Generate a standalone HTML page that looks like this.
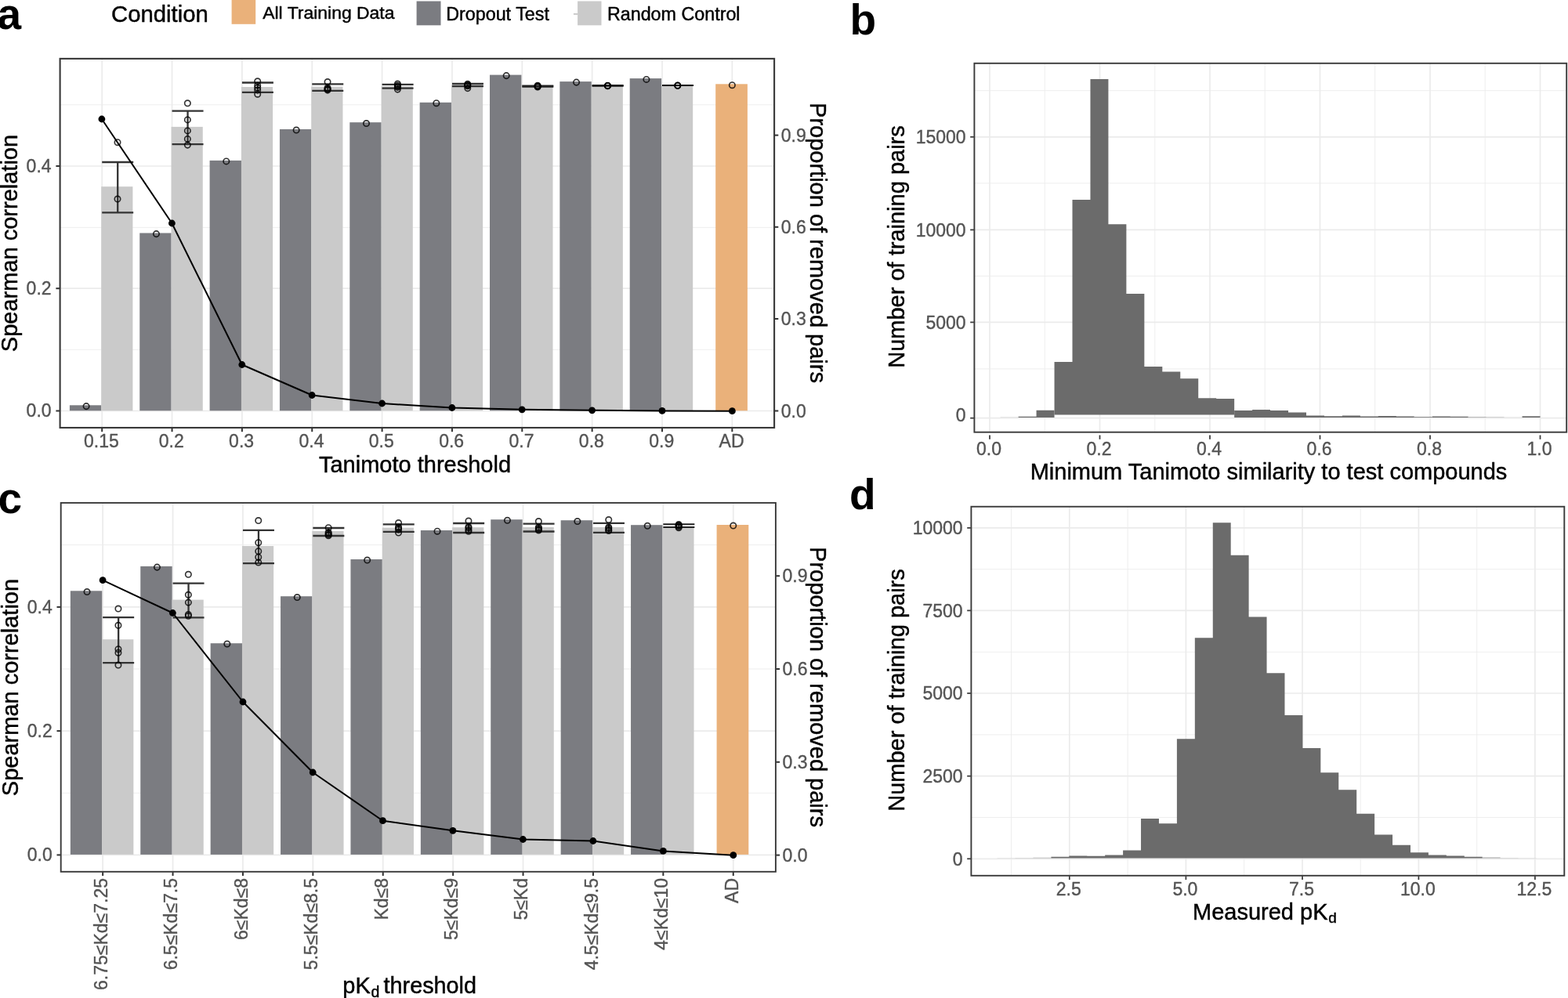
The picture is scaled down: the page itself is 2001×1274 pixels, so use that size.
<!DOCTYPE html>
<html lang="en">
<head>
<meta charset="utf-8">
<title>Figure: dropout experiments</title>
<style>
html,body{margin:0;padding:0;background:#fff;}
body{width:2001px;height:1274px;overflow:hidden;}
svg{display:block;font-family:'Liberation Sans', sans-serif;}
</style>
</head>
<body>
<svg width="2001" height="1274" viewBox="0 0 2001 1274">
<rect x="0" y="0" width="2001" height="1274" fill="#ffffff"/>
<line x1="76.6" y1="446.3" x2="988.1" y2="446.3" stroke="#EBEBEB" stroke-width="0.85" />
<line x1="76.6" y1="290.4" x2="988.1" y2="290.4" stroke="#EBEBEB" stroke-width="0.85" />
<line x1="76.6" y1="133.8" x2="988.1" y2="133.8" stroke="#EBEBEB" stroke-width="0.85" />
<line x1="76.6" y1="524.5" x2="988.1" y2="524.5" stroke="#EBEBEB" stroke-width="1.7" />
<line x1="76.6" y1="368.2" x2="988.1" y2="368.2" stroke="#EBEBEB" stroke-width="1.7" />
<line x1="76.6" y1="212" x2="988.1" y2="212" stroke="#EBEBEB" stroke-width="1.7" />
<line x1="130.2" y1="74.9" x2="130.2" y2="546" stroke="#EBEBEB" stroke-width="1.7" />
<line x1="219.55" y1="74.9" x2="219.55" y2="546" stroke="#EBEBEB" stroke-width="1.7" />
<line x1="308.9" y1="74.9" x2="308.9" y2="546" stroke="#EBEBEB" stroke-width="1.7" />
<line x1="398.25" y1="74.9" x2="398.25" y2="546" stroke="#EBEBEB" stroke-width="1.7" />
<line x1="487.6" y1="74.9" x2="487.6" y2="546" stroke="#EBEBEB" stroke-width="1.7" />
<line x1="576.95" y1="74.9" x2="576.95" y2="546" stroke="#EBEBEB" stroke-width="1.7" />
<line x1="666.3" y1="74.9" x2="666.3" y2="546" stroke="#EBEBEB" stroke-width="1.7" />
<line x1="755.65" y1="74.9" x2="755.65" y2="546" stroke="#EBEBEB" stroke-width="1.7" />
<line x1="845" y1="74.9" x2="845" y2="546" stroke="#EBEBEB" stroke-width="1.7" />
<line x1="934.35" y1="74.9" x2="934.35" y2="546" stroke="#EBEBEB" stroke-width="1.7" />
<rect x="88.9" y="517.3" width="40.4" height="7" fill="#7B7C81" />
<rect x="129.2" y="238.2" width="40.2" height="286.1" fill="#CACACA" />
<rect x="178.25" y="297.5" width="40.4" height="226.8" fill="#7B7C81" />
<rect x="218.55" y="161.9" width="40.2" height="362.4" fill="#CACACA" />
<rect x="267.6" y="204.9" width="40.4" height="319.4" fill="#7B7C81" />
<rect x="307.9" y="111" width="40.2" height="413.3" fill="#CACACA" />
<rect x="356.95" y="165" width="40.4" height="359.3" fill="#7B7C81" />
<rect x="397.25" y="110.7" width="40.2" height="413.6" fill="#CACACA" />
<rect x="446.3" y="156.2" width="40.4" height="368.1" fill="#7B7C81" />
<rect x="486.6" y="110.1" width="40.2" height="414.2" fill="#CACACA" />
<rect x="535.65" y="130.8" width="40.4" height="393.5" fill="#7B7C81" />
<rect x="575.95" y="108.6" width="40.2" height="415.7" fill="#CACACA" />
<rect x="625" y="95.6" width="40.4" height="428.7" fill="#7B7C81" />
<rect x="665.3" y="110" width="40.2" height="414.3" fill="#CACACA" />
<rect x="714.35" y="104.1" width="40.4" height="420.2" fill="#7B7C81" />
<rect x="754.65" y="109.5" width="40.2" height="414.8" fill="#CACACA" />
<rect x="803.7" y="100.1" width="40.4" height="424.2" fill="#7B7C81" />
<rect x="844" y="109.4" width="40.2" height="414.9" fill="#CACACA" />
<rect x="913.2" y="107.3" width="40.7" height="417" fill="#EAB17A" />
<line x1="130.2" y1="207" x2="170.2" y2="207" stroke="#333333" stroke-width="2.3" />
<line x1="130.2" y1="271.3" x2="170.2" y2="271.3" stroke="#333333" stroke-width="2.3" />
<line x1="150.2" y1="207" x2="150.2" y2="271.3" stroke="#333333" stroke-width="2.3" />
<line x1="219.55" y1="141.6" x2="259.55" y2="141.6" stroke="#333333" stroke-width="2.3" />
<line x1="219.55" y1="184.1" x2="259.55" y2="184.1" stroke="#333333" stroke-width="2.3" />
<line x1="239.55" y1="141.6" x2="239.55" y2="184.1" stroke="#333333" stroke-width="2.3" />
<line x1="308.9" y1="105.5" x2="348.9" y2="105.5" stroke="#333333" stroke-width="2.3" />
<line x1="308.9" y1="117.9" x2="348.9" y2="117.9" stroke="#333333" stroke-width="2.3" />
<line x1="328.9" y1="105.5" x2="328.9" y2="117.9" stroke="#333333" stroke-width="2.3" />
<line x1="398.25" y1="107.4" x2="438.25" y2="107.4" stroke="#333333" stroke-width="2.3" />
<line x1="398.25" y1="115.8" x2="438.25" y2="115.8" stroke="#333333" stroke-width="2.3" />
<line x1="418.25" y1="107.4" x2="418.25" y2="115.8" stroke="#333333" stroke-width="2.3" />
<line x1="487.6" y1="107.9" x2="527.6" y2="107.9" stroke="#333333" stroke-width="2.3" />
<line x1="487.6" y1="112.6" x2="527.6" y2="112.6" stroke="#333333" stroke-width="2.3" />
<line x1="507.6" y1="107.9" x2="507.6" y2="112.6" stroke="#333333" stroke-width="2.3" />
<line x1="576.95" y1="107" x2="616.95" y2="107" stroke="#333333" stroke-width="2.3" />
<line x1="576.95" y1="110.2" x2="616.95" y2="110.2" stroke="#333333" stroke-width="2.3" />
<line x1="596.95" y1="107" x2="596.95" y2="110.2" stroke="#333333" stroke-width="2.3" />
<line x1="666.3" y1="109.5" x2="706.3" y2="109.5" stroke="#222" stroke-width="2.2" />
<line x1="666.3" y1="110.6" x2="706.3" y2="110.6" stroke="#222" stroke-width="2.2" />
<line x1="686.3" y1="109.5" x2="686.3" y2="110.6" stroke="#222" stroke-width="2.2" />
<line x1="755.65" y1="109" x2="795.65" y2="109" stroke="#111" stroke-width="2" />
<line x1="755.65" y1="109.8" x2="795.65" y2="109.8" stroke="#111" stroke-width="2" />
<line x1="775.65" y1="109" x2="775.65" y2="109.8" stroke="#111" stroke-width="2" />
<line x1="845" y1="109" x2="885" y2="109" stroke="#000" stroke-width="2.1" />
<line x1="845" y1="109" x2="885" y2="109" stroke="#000" stroke-width="2.1" />
<line x1="865" y1="109" x2="865" y2="109" stroke="#000" stroke-width="2.1" />
<circle cx="110.1" cy="518.6" r="3.7" fill="none" stroke="#000" stroke-width="1.65" stroke-opacity="0.8"/>
<circle cx="150" cy="181.7" r="3.7" fill="none" stroke="#000" stroke-width="1.65" stroke-opacity="0.8"/>
<circle cx="150" cy="254" r="3.7" fill="none" stroke="#000" stroke-width="1.65" stroke-opacity="0.8"/>
<circle cx="199.45" cy="298.6" r="3.7" fill="none" stroke="#000" stroke-width="1.65" stroke-opacity="0.8"/>
<circle cx="239.35" cy="131.8" r="3.7" fill="none" stroke="#000" stroke-width="1.65" stroke-opacity="0.8"/>
<circle cx="239.35" cy="152.9" r="3.7" fill="none" stroke="#000" stroke-width="1.65" stroke-opacity="0.8"/>
<circle cx="239.35" cy="166.9" r="3.7" fill="none" stroke="#000" stroke-width="1.65" stroke-opacity="0.8"/>
<circle cx="239.35" cy="177.4" r="3.7" fill="none" stroke="#000" stroke-width="1.65" stroke-opacity="0.8"/>
<circle cx="239.35" cy="185.1" r="3.7" fill="none" stroke="#000" stroke-width="1.65" stroke-opacity="0.8"/>
<circle cx="288.8" cy="205.9" r="3.7" fill="none" stroke="#000" stroke-width="1.65" stroke-opacity="0.8"/>
<circle cx="328.7" cy="103.8" r="3.7" fill="none" stroke="#000" stroke-width="1.65" stroke-opacity="0.8"/>
<circle cx="328.7" cy="108.9" r="3.7" fill="none" stroke="#000" stroke-width="1.65" stroke-opacity="0.8"/>
<circle cx="328.7" cy="112" r="3.7" fill="none" stroke="#000" stroke-width="1.65" stroke-opacity="0.8"/>
<circle cx="328.7" cy="115.1" r="3.7" fill="none" stroke="#000" stroke-width="1.65" stroke-opacity="0.8"/>
<circle cx="328.7" cy="120.2" r="3.7" fill="none" stroke="#000" stroke-width="1.65" stroke-opacity="0.8"/>
<circle cx="378.15" cy="166" r="3.7" fill="none" stroke="#000" stroke-width="1.65" stroke-opacity="0.8"/>
<circle cx="418.05" cy="104.5" r="3.7" fill="none" stroke="#000" stroke-width="1.65" stroke-opacity="0.8"/>
<circle cx="418.05" cy="112" r="3.7" fill="none" stroke="#000" stroke-width="1.65" stroke-opacity="0.8"/>
<circle cx="418.05" cy="113.6" r="3.7" fill="none" stroke="#000" stroke-width="1.65" stroke-opacity="0.8"/>
<circle cx="418.05" cy="115.1" r="3.7" fill="none" stroke="#000" stroke-width="1.65" stroke-opacity="0.8"/>
<circle cx="418.05" cy="114" r="3.7" fill="none" stroke="#000" stroke-width="1.65" stroke-opacity="0.8"/>
<circle cx="467.5" cy="157.5" r="3.7" fill="none" stroke="#000" stroke-width="1.65" stroke-opacity="0.8"/>
<circle cx="507.4" cy="107" r="3.7" fill="none" stroke="#000" stroke-width="1.65" stroke-opacity="0.8"/>
<circle cx="507.4" cy="108.9" r="3.7" fill="none" stroke="#000" stroke-width="1.65" stroke-opacity="0.8"/>
<circle cx="507.4" cy="110.2" r="3.7" fill="none" stroke="#000" stroke-width="1.65" stroke-opacity="0.8"/>
<circle cx="507.4" cy="111.4" r="3.7" fill="none" stroke="#000" stroke-width="1.65" stroke-opacity="0.8"/>
<circle cx="507.4" cy="114.1" r="3.7" fill="none" stroke="#000" stroke-width="1.65" stroke-opacity="0.8"/>
<circle cx="556.85" cy="131.7" r="3.7" fill="none" stroke="#000" stroke-width="1.65" stroke-opacity="0.8"/>
<circle cx="596.75" cy="107.2" r="3.7" fill="none" stroke="#000" stroke-width="1.65" stroke-opacity="0.8"/>
<circle cx="596.75" cy="108.3" r="3.7" fill="none" stroke="#000" stroke-width="1.65" stroke-opacity="0.8"/>
<circle cx="596.75" cy="109" r="3.7" fill="none" stroke="#000" stroke-width="1.65" stroke-opacity="0.8"/>
<circle cx="596.75" cy="109.8" r="3.7" fill="none" stroke="#000" stroke-width="1.65" stroke-opacity="0.8"/>
<circle cx="596.75" cy="112.6" r="3.7" fill="none" stroke="#000" stroke-width="1.65" stroke-opacity="0.8"/>
<circle cx="646.2" cy="96.6" r="3.7" fill="none" stroke="#000" stroke-width="1.65" stroke-opacity="0.8"/>
<circle cx="686.1" cy="109.3" r="3.7" fill="none" stroke="#000" stroke-width="1.65" stroke-opacity="0.8"/>
<circle cx="686.1" cy="109.8" r="3.7" fill="none" stroke="#000" stroke-width="1.65" stroke-opacity="0.8"/>
<circle cx="686.1" cy="110.2" r="3.7" fill="none" stroke="#000" stroke-width="1.65" stroke-opacity="0.8"/>
<circle cx="686.1" cy="110.6" r="3.7" fill="none" stroke="#000" stroke-width="1.65" stroke-opacity="0.8"/>
<circle cx="686.1" cy="111" r="3.7" fill="none" stroke="#000" stroke-width="1.65" stroke-opacity="0.8"/>
<circle cx="735.55" cy="105.1" r="3.7" fill="none" stroke="#000" stroke-width="1.65" stroke-opacity="0.8"/>
<circle cx="775.45" cy="109.2" r="3.7" fill="none" stroke="#000" stroke-width="1.65" stroke-opacity="0.8"/>
<circle cx="775.45" cy="109.4" r="3.7" fill="none" stroke="#000" stroke-width="1.65" stroke-opacity="0.8"/>
<circle cx="775.45" cy="109.6" r="3.7" fill="none" stroke="#000" stroke-width="1.65" stroke-opacity="0.8"/>
<circle cx="775.45" cy="109.7" r="3.7" fill="none" stroke="#000" stroke-width="1.65" stroke-opacity="0.8"/>
<circle cx="824.9" cy="101.4" r="3.7" fill="none" stroke="#000" stroke-width="1.65" stroke-opacity="0.8"/>
<circle cx="864.8" cy="109.1" r="3.7" fill="none" stroke="#000" stroke-width="1.65" stroke-opacity="0.8"/>
<circle cx="864.8" cy="109.2" r="3.7" fill="none" stroke="#000" stroke-width="1.65" stroke-opacity="0.8"/>
<circle cx="864.8" cy="109.3" r="3.7" fill="none" stroke="#000" stroke-width="1.65" stroke-opacity="0.8"/>
<circle cx="934.35" cy="108.7" r="3.7" fill="none" stroke="#000" stroke-width="1.65" stroke-opacity="0.8"/>
<polyline fill="none" stroke="#000" stroke-width="2" stroke-linejoin="round" points="129.9,152 219.4,285 308.8,465.5 398.2,504.5 487.6,515 576.9,520.5 666.2,522.8 755.6,523.8 845,524.4 934.4,524.7"/>
<circle cx="129.9" cy="152" r="4.4" fill="#000"/>
<circle cx="219.4" cy="285" r="4.4" fill="#000"/>
<circle cx="308.8" cy="465.5" r="4.4" fill="#000"/>
<circle cx="398.2" cy="504.5" r="4.4" fill="#000"/>
<circle cx="487.6" cy="515" r="4.4" fill="#000"/>
<circle cx="576.9" cy="520.5" r="4.4" fill="#000"/>
<circle cx="666.2" cy="522.8" r="4.4" fill="#000"/>
<circle cx="755.6" cy="523.8" r="4.4" fill="#000"/>
<circle cx="845" cy="524.4" r="4.4" fill="#000"/>
<circle cx="934.4" cy="524.7" r="4.4" fill="#000"/>
<rect x="76.6" y="74.9" width="911.5" height="471.1" fill="none" stroke="#383838" stroke-width="2.1"/>
<line x1="71.4" y1="524.5" x2="76.1" y2="524.5" stroke="#333333" stroke-width="2" />
<text transform="translate(65.6 532.4)" font-size="23" fill="#545454" stroke="#545454" stroke-width="0.38" stroke-linejoin="round" text-anchor="end" font-weight="normal" >0.0</text>
<line x1="71.4" y1="368.2" x2="76.1" y2="368.2" stroke="#333333" stroke-width="2" />
<text transform="translate(65.6 376.1)" font-size="23" fill="#545454" stroke="#545454" stroke-width="0.38" stroke-linejoin="round" text-anchor="end" font-weight="normal" >0.2</text>
<line x1="71.4" y1="212" x2="76.1" y2="212" stroke="#333333" stroke-width="2" />
<text transform="translate(65.6 219.9)" font-size="23" fill="#545454" stroke="#545454" stroke-width="0.38" stroke-linejoin="round" text-anchor="end" font-weight="normal" >0.4</text>
<line x1="988.6" y1="524.5" x2="993.3" y2="524.5" stroke="#333333" stroke-width="2" />
<text transform="translate(996.7 532.6)" font-size="23" fill="#545454" stroke="#545454" stroke-width="0.38" stroke-linejoin="round" text-anchor="start" font-weight="normal" >0.0</text>
<line x1="988.6" y1="407" x2="993.3" y2="407" stroke="#333333" stroke-width="2" />
<text transform="translate(996.7 415.1)" font-size="23" fill="#545454" stroke="#545454" stroke-width="0.38" stroke-linejoin="round" text-anchor="start" font-weight="normal" >0.3</text>
<line x1="988.6" y1="289.8" x2="993.3" y2="289.8" stroke="#333333" stroke-width="2" />
<text transform="translate(996.7 297.9)" font-size="23" fill="#545454" stroke="#545454" stroke-width="0.38" stroke-linejoin="round" text-anchor="start" font-weight="normal" >0.6</text>
<line x1="988.6" y1="172.6" x2="993.3" y2="172.6" stroke="#333333" stroke-width="2" />
<text transform="translate(996.7 180.7)" font-size="23" fill="#545454" stroke="#545454" stroke-width="0.38" stroke-linejoin="round" text-anchor="start" font-weight="normal" >0.9</text>
<line x1="130.2" y1="546.5" x2="130.2" y2="551.2" stroke="#333333" stroke-width="2" />
<line x1="219.55" y1="546.5" x2="219.55" y2="551.2" stroke="#333333" stroke-width="2" />
<line x1="308.9" y1="546.5" x2="308.9" y2="551.2" stroke="#333333" stroke-width="2" />
<line x1="398.25" y1="546.5" x2="398.25" y2="551.2" stroke="#333333" stroke-width="2" />
<line x1="487.6" y1="546.5" x2="487.6" y2="551.2" stroke="#333333" stroke-width="2" />
<line x1="576.95" y1="546.5" x2="576.95" y2="551.2" stroke="#333333" stroke-width="2" />
<line x1="666.3" y1="546.5" x2="666.3" y2="551.2" stroke="#333333" stroke-width="2" />
<line x1="755.65" y1="546.5" x2="755.65" y2="551.2" stroke="#333333" stroke-width="2" />
<line x1="845" y1="546.5" x2="845" y2="551.2" stroke="#333333" stroke-width="2" />
<line x1="934.35" y1="546.5" x2="934.35" y2="551.2" stroke="#333333" stroke-width="2" />
<text transform="translate(129.4 571.3)" font-size="23" fill="#545454" stroke="#545454" stroke-width="0.38" stroke-linejoin="round" text-anchor="middle" font-weight="normal" >0.15</text>
<text transform="translate(218.75 571.3)" font-size="23" fill="#545454" stroke="#545454" stroke-width="0.38" stroke-linejoin="round" text-anchor="middle" font-weight="normal" >0.2</text>
<text transform="translate(308.1 571.3)" font-size="23" fill="#545454" stroke="#545454" stroke-width="0.38" stroke-linejoin="round" text-anchor="middle" font-weight="normal" >0.3</text>
<text transform="translate(397.45 571.3)" font-size="23" fill="#545454" stroke="#545454" stroke-width="0.38" stroke-linejoin="round" text-anchor="middle" font-weight="normal" >0.4</text>
<text transform="translate(486.8 571.3)" font-size="23" fill="#545454" stroke="#545454" stroke-width="0.38" stroke-linejoin="round" text-anchor="middle" font-weight="normal" >0.5</text>
<text transform="translate(576.15 571.3)" font-size="23" fill="#545454" stroke="#545454" stroke-width="0.38" stroke-linejoin="round" text-anchor="middle" font-weight="normal" >0.6</text>
<text transform="translate(665.5 571.3)" font-size="23" fill="#545454" stroke="#545454" stroke-width="0.38" stroke-linejoin="round" text-anchor="middle" font-weight="normal" >0.7</text>
<text transform="translate(754.85 571.3)" font-size="23" fill="#545454" stroke="#545454" stroke-width="0.38" stroke-linejoin="round" text-anchor="middle" font-weight="normal" >0.8</text>
<text transform="translate(844.2 571.3)" font-size="23" fill="#545454" stroke="#545454" stroke-width="0.38" stroke-linejoin="round" text-anchor="middle" font-weight="normal" >0.9</text>
<text transform="translate(933.55 571.3)" font-size="23" fill="#545454" stroke="#545454" stroke-width="0.38" stroke-linejoin="round" text-anchor="middle" font-weight="normal" >AD</text>
<text transform="translate(529.5 602.6)" font-size="29" fill="#000" stroke="#000" stroke-width="0.45" stroke-linejoin="round" text-anchor="middle" font-weight="normal" >Tanimoto threshold</text>
<text transform="translate(21.7 310.5) rotate(-90)" font-size="29" fill="#000" stroke="#000" stroke-width="0.45" stroke-linejoin="round" text-anchor="middle" font-weight="normal" >Spearman correlation</text>
<text transform="translate(1034.2 310) rotate(90)" font-size="29" fill="#000" stroke="#000" stroke-width="0.45" stroke-linejoin="round" text-anchor="middle" font-weight="normal" >Proportion of removed pairs</text>
<line x1="77.7" y1="1012.3" x2="989.9" y2="1012.3" stroke="#EBEBEB" stroke-width="0.85" />
<line x1="77.7" y1="854" x2="989.9" y2="854" stroke="#EBEBEB" stroke-width="0.85" />
<line x1="77.7" y1="695.6" x2="989.9" y2="695.6" stroke="#EBEBEB" stroke-width="0.85" />
<line x1="77.7" y1="1091.4" x2="989.9" y2="1091.4" stroke="#EBEBEB" stroke-width="1.7" />
<line x1="77.7" y1="933.1" x2="989.9" y2="933.1" stroke="#EBEBEB" stroke-width="1.7" />
<line x1="77.7" y1="774.9" x2="989.9" y2="774.9" stroke="#EBEBEB" stroke-width="1.7" />
<line x1="131.15" y1="641.9" x2="131.15" y2="1112.8" stroke="#EBEBEB" stroke-width="1.7" />
<line x1="220.55" y1="641.9" x2="220.55" y2="1112.8" stroke="#EBEBEB" stroke-width="1.7" />
<line x1="309.95" y1="641.9" x2="309.95" y2="1112.8" stroke="#EBEBEB" stroke-width="1.7" />
<line x1="399.35" y1="641.9" x2="399.35" y2="1112.8" stroke="#EBEBEB" stroke-width="1.7" />
<line x1="488.75" y1="641.9" x2="488.75" y2="1112.8" stroke="#EBEBEB" stroke-width="1.7" />
<line x1="578.15" y1="641.9" x2="578.15" y2="1112.8" stroke="#EBEBEB" stroke-width="1.7" />
<line x1="667.55" y1="641.9" x2="667.55" y2="1112.8" stroke="#EBEBEB" stroke-width="1.7" />
<line x1="756.95" y1="641.9" x2="756.95" y2="1112.8" stroke="#EBEBEB" stroke-width="1.7" />
<line x1="846.35" y1="641.9" x2="846.35" y2="1112.8" stroke="#EBEBEB" stroke-width="1.7" />
<line x1="935.75" y1="641.9" x2="935.75" y2="1112.8" stroke="#EBEBEB" stroke-width="1.7" />
<rect x="89.85" y="754.3" width="40.4" height="336.6" fill="#7B7C81" />
<rect x="130.15" y="816.2" width="40.2" height="274.7" fill="#CACACA" />
<rect x="179.25" y="722.9" width="40.4" height="368" fill="#7B7C81" />
<rect x="219.55" y="765.6" width="40.2" height="325.3" fill="#CACACA" />
<rect x="268.65" y="821.2" width="40.4" height="269.7" fill="#7B7C81" />
<rect x="308.95" y="697" width="40.2" height="393.9" fill="#CACACA" />
<rect x="358.05" y="761.2" width="40.4" height="329.7" fill="#7B7C81" />
<rect x="398.35" y="678" width="40.2" height="412.9" fill="#CACACA" />
<rect x="447.45" y="714" width="40.4" height="376.9" fill="#7B7C81" />
<rect x="487.75" y="673.7" width="40.2" height="417.2" fill="#CACACA" />
<rect x="536.85" y="677" width="40.4" height="413.9" fill="#7B7C81" />
<rect x="577.15" y="673.2" width="40.2" height="417.7" fill="#CACACA" />
<rect x="626.25" y="663.2" width="40.4" height="427.7" fill="#7B7C81" />
<rect x="666.55" y="673" width="40.2" height="417.9" fill="#CACACA" />
<rect x="715.65" y="664.2" width="40.4" height="426.7" fill="#7B7C81" />
<rect x="755.95" y="673" width="40.2" height="417.9" fill="#CACACA" />
<rect x="805.05" y="670.2" width="40.4" height="420.7" fill="#7B7C81" />
<rect x="845.35" y="672.5" width="40.2" height="418.4" fill="#CACACA" />
<rect x="914.6" y="670" width="40.7" height="420.9" fill="#EAB17A" />
<line x1="131.15" y1="788.1" x2="171.15" y2="788.1" stroke="#333333" stroke-width="2.3" />
<line x1="131.15" y1="846.2" x2="171.15" y2="846.2" stroke="#333333" stroke-width="2.3" />
<line x1="151.15" y1="788.1" x2="151.15" y2="846.2" stroke="#333333" stroke-width="2.3" />
<line x1="220.55" y1="744.6" x2="260.55" y2="744.6" stroke="#333333" stroke-width="2.3" />
<line x1="220.55" y1="788.4" x2="260.55" y2="788.4" stroke="#333333" stroke-width="2.3" />
<line x1="240.55" y1="744.6" x2="240.55" y2="788.4" stroke="#333333" stroke-width="2.3" />
<line x1="309.95" y1="676.8" x2="349.95" y2="676.8" stroke="#333333" stroke-width="2.3" />
<line x1="309.95" y1="719.2" x2="349.95" y2="719.2" stroke="#333333" stroke-width="2.3" />
<line x1="329.95" y1="676.8" x2="329.95" y2="719.2" stroke="#333333" stroke-width="2.3" />
<line x1="399.35" y1="674" x2="439.35" y2="674" stroke="#333333" stroke-width="2.3" />
<line x1="399.35" y1="684" x2="439.35" y2="684" stroke="#333333" stroke-width="2.3" />
<line x1="419.35" y1="674" x2="419.35" y2="684" stroke="#333333" stroke-width="2.3" />
<line x1="488.75" y1="669.4" x2="528.75" y2="669.4" stroke="#333333" stroke-width="2.3" />
<line x1="488.75" y1="678.8" x2="528.75" y2="678.8" stroke="#333333" stroke-width="2.3" />
<line x1="508.75" y1="669.4" x2="508.75" y2="678.8" stroke="#333333" stroke-width="2.3" />
<line x1="578.15" y1="668" x2="618.15" y2="668" stroke="#333333" stroke-width="2.3" />
<line x1="578.15" y1="680" x2="618.15" y2="680" stroke="#333333" stroke-width="2.3" />
<line x1="598.15" y1="668" x2="598.15" y2="680" stroke="#333333" stroke-width="2.3" />
<line x1="667.55" y1="668.7" x2="707.55" y2="668.7" stroke="#333333" stroke-width="2.3" />
<line x1="667.55" y1="678.5" x2="707.55" y2="678.5" stroke="#333333" stroke-width="2.3" />
<line x1="687.55" y1="668.7" x2="687.55" y2="678.5" stroke="#333333" stroke-width="2.3" />
<line x1="756.95" y1="667.8" x2="796.95" y2="667.8" stroke="#333333" stroke-width="2.3" />
<line x1="756.95" y1="679.8" x2="796.95" y2="679.8" stroke="#333333" stroke-width="2.3" />
<line x1="776.95" y1="667.8" x2="776.95" y2="679.8" stroke="#333333" stroke-width="2.3" />
<line x1="846.35" y1="669.3" x2="886.35" y2="669.3" stroke="#222" stroke-width="2" />
<line x1="846.35" y1="673" x2="886.35" y2="673" stroke="#222" stroke-width="2" />
<line x1="866.35" y1="669.3" x2="866.35" y2="673" stroke="#222" stroke-width="2" />
<circle cx="111.05" cy="755.5" r="3.7" fill="none" stroke="#000" stroke-width="1.65" stroke-opacity="0.8"/>
<circle cx="150.95" cy="777" r="3.7" fill="none" stroke="#000" stroke-width="1.65" stroke-opacity="0.8"/>
<circle cx="150.95" cy="798.3" r="3.7" fill="none" stroke="#000" stroke-width="1.65" stroke-opacity="0.8"/>
<circle cx="150.95" cy="828.7" r="3.7" fill="none" stroke="#000" stroke-width="1.65" stroke-opacity="0.8"/>
<circle cx="150.95" cy="833.2" r="3.7" fill="none" stroke="#000" stroke-width="1.65" stroke-opacity="0.8"/>
<circle cx="150.95" cy="849" r="3.7" fill="none" stroke="#000" stroke-width="1.65" stroke-opacity="0.8"/>
<circle cx="200.45" cy="724.1" r="3.7" fill="none" stroke="#000" stroke-width="1.65" stroke-opacity="0.8"/>
<circle cx="240.35" cy="733.3" r="3.7" fill="none" stroke="#000" stroke-width="1.65" stroke-opacity="0.8"/>
<circle cx="240.35" cy="759.3" r="3.7" fill="none" stroke="#000" stroke-width="1.65" stroke-opacity="0.8"/>
<circle cx="240.35" cy="769.1" r="3.7" fill="none" stroke="#000" stroke-width="1.65" stroke-opacity="0.8"/>
<circle cx="240.35" cy="784.4" r="3.7" fill="none" stroke="#000" stroke-width="1.65" stroke-opacity="0.8"/>
<circle cx="240.35" cy="786.3" r="3.7" fill="none" stroke="#000" stroke-width="1.65" stroke-opacity="0.8"/>
<circle cx="289.85" cy="822" r="3.7" fill="none" stroke="#000" stroke-width="1.65" stroke-opacity="0.8"/>
<circle cx="329.75" cy="664.5" r="3.7" fill="none" stroke="#000" stroke-width="1.65" stroke-opacity="0.8"/>
<circle cx="329.75" cy="692.7" r="3.7" fill="none" stroke="#000" stroke-width="1.65" stroke-opacity="0.8"/>
<circle cx="329.75" cy="703.7" r="3.7" fill="none" stroke="#000" stroke-width="1.65" stroke-opacity="0.8"/>
<circle cx="329.75" cy="711.2" r="3.7" fill="none" stroke="#000" stroke-width="1.65" stroke-opacity="0.8"/>
<circle cx="329.75" cy="718" r="3.7" fill="none" stroke="#000" stroke-width="1.65" stroke-opacity="0.8"/>
<circle cx="379.25" cy="762.5" r="3.7" fill="none" stroke="#000" stroke-width="1.65" stroke-opacity="0.8"/>
<circle cx="419.15" cy="673.7" r="3.7" fill="none" stroke="#000" stroke-width="1.65" stroke-opacity="0.8"/>
<circle cx="419.15" cy="679.5" r="3.7" fill="none" stroke="#000" stroke-width="1.65" stroke-opacity="0.8"/>
<circle cx="419.15" cy="681.2" r="3.7" fill="none" stroke="#000" stroke-width="1.65" stroke-opacity="0.8"/>
<circle cx="419.15" cy="682.5" r="3.7" fill="none" stroke="#000" stroke-width="1.65" stroke-opacity="0.8"/>
<circle cx="419.15" cy="683.7" r="3.7" fill="none" stroke="#000" stroke-width="1.65" stroke-opacity="0.8"/>
<circle cx="468.65" cy="715" r="3.7" fill="none" stroke="#000" stroke-width="1.65" stroke-opacity="0.8"/>
<circle cx="508.55" cy="667.5" r="3.7" fill="none" stroke="#000" stroke-width="1.65" stroke-opacity="0.8"/>
<circle cx="508.55" cy="672.5" r="3.7" fill="none" stroke="#000" stroke-width="1.65" stroke-opacity="0.8"/>
<circle cx="508.55" cy="674.5" r="3.7" fill="none" stroke="#000" stroke-width="1.65" stroke-opacity="0.8"/>
<circle cx="508.55" cy="676.2" r="3.7" fill="none" stroke="#000" stroke-width="1.65" stroke-opacity="0.8"/>
<circle cx="508.55" cy="680" r="3.7" fill="none" stroke="#000" stroke-width="1.65" stroke-opacity="0.8"/>
<circle cx="558.05" cy="678.2" r="3.7" fill="none" stroke="#000" stroke-width="1.65" stroke-opacity="0.8"/>
<circle cx="597.95" cy="665" r="3.7" fill="none" stroke="#000" stroke-width="1.65" stroke-opacity="0.8"/>
<circle cx="597.95" cy="672.5" r="3.7" fill="none" stroke="#000" stroke-width="1.65" stroke-opacity="0.8"/>
<circle cx="597.95" cy="674" r="3.7" fill="none" stroke="#000" stroke-width="1.65" stroke-opacity="0.8"/>
<circle cx="597.95" cy="676.5" r="3.7" fill="none" stroke="#000" stroke-width="1.65" stroke-opacity="0.8"/>
<circle cx="597.95" cy="678.2" r="3.7" fill="none" stroke="#000" stroke-width="1.65" stroke-opacity="0.8"/>
<circle cx="647.45" cy="664.3" r="3.7" fill="none" stroke="#000" stroke-width="1.65" stroke-opacity="0.8"/>
<circle cx="687.35" cy="665.5" r="3.7" fill="none" stroke="#000" stroke-width="1.65" stroke-opacity="0.8"/>
<circle cx="687.35" cy="673" r="3.7" fill="none" stroke="#000" stroke-width="1.65" stroke-opacity="0.8"/>
<circle cx="687.35" cy="674.5" r="3.7" fill="none" stroke="#000" stroke-width="1.65" stroke-opacity="0.8"/>
<circle cx="687.35" cy="676" r="3.7" fill="none" stroke="#000" stroke-width="1.65" stroke-opacity="0.8"/>
<circle cx="687.35" cy="677" r="3.7" fill="none" stroke="#000" stroke-width="1.65" stroke-opacity="0.8"/>
<circle cx="736.85" cy="665.5" r="3.7" fill="none" stroke="#000" stroke-width="1.65" stroke-opacity="0.8"/>
<circle cx="776.75" cy="663.5" r="3.7" fill="none" stroke="#000" stroke-width="1.65" stroke-opacity="0.8"/>
<circle cx="776.75" cy="673" r="3.7" fill="none" stroke="#000" stroke-width="1.65" stroke-opacity="0.8"/>
<circle cx="776.75" cy="674.5" r="3.7" fill="none" stroke="#000" stroke-width="1.65" stroke-opacity="0.8"/>
<circle cx="776.75" cy="676.5" r="3.7" fill="none" stroke="#000" stroke-width="1.65" stroke-opacity="0.8"/>
<circle cx="776.75" cy="677.5" r="3.7" fill="none" stroke="#000" stroke-width="1.65" stroke-opacity="0.8"/>
<circle cx="826.25" cy="671.3" r="3.7" fill="none" stroke="#000" stroke-width="1.65" stroke-opacity="0.8"/>
<circle cx="866.15" cy="669.5" r="3.7" fill="none" stroke="#000" stroke-width="1.65" stroke-opacity="0.8"/>
<circle cx="866.15" cy="670.5" r="3.7" fill="none" stroke="#000" stroke-width="1.65" stroke-opacity="0.8"/>
<circle cx="866.15" cy="671.2" r="3.7" fill="none" stroke="#000" stroke-width="1.65" stroke-opacity="0.8"/>
<circle cx="866.15" cy="672.5" r="3.7" fill="none" stroke="#000" stroke-width="1.65" stroke-opacity="0.8"/>
<circle cx="866.15" cy="673.7" r="3.7" fill="none" stroke="#000" stroke-width="1.65" stroke-opacity="0.8"/>
<circle cx="935.75" cy="671" r="3.7" fill="none" stroke="#000" stroke-width="1.65" stroke-opacity="0.8"/>
<polyline fill="none" stroke="#000" stroke-width="2" stroke-linejoin="round" points="131.1,740.7 220.4,782.5 310,896 399.2,986 488.5,1047.7 577.9,1060.3 667.4,1071.5 756.9,1073.5 846.4,1086.4 935.8,1091.7"/>
<circle cx="131.1" cy="740.7" r="4.4" fill="#000"/>
<circle cx="220.4" cy="782.5" r="4.4" fill="#000"/>
<circle cx="310" cy="896" r="4.4" fill="#000"/>
<circle cx="399.2" cy="986" r="4.4" fill="#000"/>
<circle cx="488.5" cy="1047.7" r="4.4" fill="#000"/>
<circle cx="577.9" cy="1060.3" r="4.4" fill="#000"/>
<circle cx="667.4" cy="1071.5" r="4.4" fill="#000"/>
<circle cx="756.9" cy="1073.5" r="4.4" fill="#000"/>
<circle cx="846.4" cy="1086.4" r="4.4" fill="#000"/>
<circle cx="935.8" cy="1091.7" r="4.4" fill="#000"/>
<rect x="77.7" y="641.9" width="912.2" height="470.9" fill="none" stroke="#383838" stroke-width="1.9"/>
<line x1="72.5" y1="1091.4" x2="77.2" y2="1091.4" stroke="#333333" stroke-width="2" />
<text transform="translate(66.7 1099.3)" font-size="23" fill="#545454" stroke="#545454" stroke-width="0.38" stroke-linejoin="round" text-anchor="end" font-weight="normal" >0.0</text>
<line x1="72.5" y1="933.1" x2="77.2" y2="933.1" stroke="#333333" stroke-width="2" />
<text transform="translate(66.7 941)" font-size="23" fill="#545454" stroke="#545454" stroke-width="0.38" stroke-linejoin="round" text-anchor="end" font-weight="normal" >0.2</text>
<line x1="72.5" y1="774.9" x2="77.2" y2="774.9" stroke="#333333" stroke-width="2" />
<text transform="translate(66.7 782.8)" font-size="23" fill="#545454" stroke="#545454" stroke-width="0.38" stroke-linejoin="round" text-anchor="end" font-weight="normal" >0.4</text>
<line x1="990.4" y1="1091.6" x2="995.1" y2="1091.6" stroke="#333333" stroke-width="2" />
<text transform="translate(998.5 1099.7)" font-size="23" fill="#545454" stroke="#545454" stroke-width="0.38" stroke-linejoin="round" text-anchor="start" font-weight="normal" >0.0</text>
<line x1="990.4" y1="972.8" x2="995.1" y2="972.8" stroke="#333333" stroke-width="2" />
<text transform="translate(998.5 980.9)" font-size="23" fill="#545454" stroke="#545454" stroke-width="0.38" stroke-linejoin="round" text-anchor="start" font-weight="normal" >0.3</text>
<line x1="990.4" y1="854" x2="995.1" y2="854" stroke="#333333" stroke-width="2" />
<text transform="translate(998.5 862.1)" font-size="23" fill="#545454" stroke="#545454" stroke-width="0.38" stroke-linejoin="round" text-anchor="start" font-weight="normal" >0.6</text>
<line x1="990.4" y1="735.2" x2="995.1" y2="735.2" stroke="#333333" stroke-width="2" />
<text transform="translate(998.5 743.3)" font-size="23" fill="#545454" stroke="#545454" stroke-width="0.38" stroke-linejoin="round" text-anchor="start" font-weight="normal" >0.9</text>
<line x1="131.15" y1="1113.3" x2="131.15" y2="1118" stroke="#333333" stroke-width="2" />
<line x1="220.55" y1="1113.3" x2="220.55" y2="1118" stroke="#333333" stroke-width="2" />
<line x1="309.95" y1="1113.3" x2="309.95" y2="1118" stroke="#333333" stroke-width="2" />
<line x1="399.35" y1="1113.3" x2="399.35" y2="1118" stroke="#333333" stroke-width="2" />
<line x1="488.75" y1="1113.3" x2="488.75" y2="1118" stroke="#333333" stroke-width="2" />
<line x1="578.15" y1="1113.3" x2="578.15" y2="1118" stroke="#333333" stroke-width="2" />
<line x1="667.55" y1="1113.3" x2="667.55" y2="1118" stroke="#333333" stroke-width="2" />
<line x1="756.95" y1="1113.3" x2="756.95" y2="1118" stroke="#333333" stroke-width="2" />
<line x1="846.35" y1="1113.3" x2="846.35" y2="1118" stroke="#333333" stroke-width="2" />
<line x1="935.75" y1="1113.3" x2="935.75" y2="1118" stroke="#333333" stroke-width="2" />
<text transform="translate(137.05 1121) rotate(-90)" font-size="23" fill="#545454" stroke="#545454" stroke-width="0.38" stroke-linejoin="round" text-anchor="end" font-weight="normal" >6.75≤Kd≤7.25</text>
<text transform="translate(226.45 1121) rotate(-90)" font-size="23" fill="#545454" stroke="#545454" stroke-width="0.38" stroke-linejoin="round" text-anchor="end" font-weight="normal" >6.5≤Kd≤7.5</text>
<text transform="translate(315.85 1121) rotate(-90)" font-size="23" fill="#545454" stroke="#545454" stroke-width="0.38" stroke-linejoin="round" text-anchor="end" font-weight="normal" >6≤Kd≤8</text>
<text transform="translate(405.25 1121) rotate(-90)" font-size="23" fill="#545454" stroke="#545454" stroke-width="0.38" stroke-linejoin="round" text-anchor="end" font-weight="normal" >5.5≤Kd≤8.5</text>
<text transform="translate(494.65 1121) rotate(-90)" font-size="23" fill="#545454" stroke="#545454" stroke-width="0.38" stroke-linejoin="round" text-anchor="end" font-weight="normal" >Kd≤8</text>
<text transform="translate(584.05 1121) rotate(-90)" font-size="23" fill="#545454" stroke="#545454" stroke-width="0.38" stroke-linejoin="round" text-anchor="end" font-weight="normal" >5≤Kd≤9</text>
<text transform="translate(673.45 1121) rotate(-90)" font-size="23" fill="#545454" stroke="#545454" stroke-width="0.38" stroke-linejoin="round" text-anchor="end" font-weight="normal" >5≤Kd</text>
<text transform="translate(762.85 1121) rotate(-90)" font-size="23" fill="#545454" stroke="#545454" stroke-width="0.38" stroke-linejoin="round" text-anchor="end" font-weight="normal" >4.5≤Kd≤9.5</text>
<text transform="translate(852.25 1121) rotate(-90)" font-size="23" fill="#545454" stroke="#545454" stroke-width="0.38" stroke-linejoin="round" text-anchor="end" font-weight="normal" >4≤Kd≤10</text>
<text transform="translate(941.65 1121) rotate(-90)" font-size="23" fill="#545454" stroke="#545454" stroke-width="0.38" stroke-linejoin="round" text-anchor="end" font-weight="normal" >AD</text>
<text transform="translate(22.7 877.5) rotate(-90)" font-size="29" fill="#000" stroke="#000" stroke-width="0.45" stroke-linejoin="round" text-anchor="middle" font-weight="normal" >Spearman correlation</text>
<text transform="translate(1034.2 877) rotate(90)" font-size="29" fill="#000" stroke="#000" stroke-width="0.45" stroke-linejoin="round" text-anchor="middle" font-weight="normal" >Proportion of removed pairs</text>
<text x="437.3" y="1267.5" font-size="29" fill="#000" stroke="#000" stroke-width="0.45">pK<tspan font-size="19.5" dx="0.6" dy="5.3">d</tspan><tspan dy="-5.3" dx="5.3" font-size="28.8">threshold</tspan></text>
<line x1="1243.4" y1="470.9" x2="1999.2" y2="470.9" stroke="#EBEBEB" stroke-width="0.85" />
<line x1="1243.4" y1="352.4" x2="1999.2" y2="352.4" stroke="#EBEBEB" stroke-width="0.85" />
<line x1="1243.4" y1="233.9" x2="1999.2" y2="233.9" stroke="#EBEBEB" stroke-width="0.85" />
<line x1="1243.4" y1="115.7" x2="1999.2" y2="115.7" stroke="#EBEBEB" stroke-width="0.85" />
<line x1="1333.3" y1="80.8" x2="1333.3" y2="551.7" stroke="#EBEBEB" stroke-width="0.85" />
<line x1="1473.8" y1="80.8" x2="1473.8" y2="551.7" stroke="#EBEBEB" stroke-width="0.85" />
<line x1="1614.2" y1="80.8" x2="1614.2" y2="551.7" stroke="#EBEBEB" stroke-width="0.85" />
<line x1="1754.7" y1="80.8" x2="1754.7" y2="551.7" stroke="#EBEBEB" stroke-width="0.85" />
<line x1="1895.2" y1="80.8" x2="1895.2" y2="551.7" stroke="#EBEBEB" stroke-width="0.85" />
<line x1="1243.4" y1="533.7" x2="1999.2" y2="533.7" stroke="#EBEBEB" stroke-width="1.7" />
<line x1="1243.4" y1="411.4" x2="1999.2" y2="411.4" stroke="#EBEBEB" stroke-width="1.7" />
<line x1="1243.4" y1="293.4" x2="1999.2" y2="293.4" stroke="#EBEBEB" stroke-width="1.7" />
<line x1="1243.4" y1="174.8" x2="1999.2" y2="174.8" stroke="#EBEBEB" stroke-width="1.7" />
<line x1="1263" y1="80.8" x2="1263" y2="551.7" stroke="#EBEBEB" stroke-width="1.7" />
<line x1="1403.5" y1="80.8" x2="1403.5" y2="551.7" stroke="#EBEBEB" stroke-width="1.7" />
<line x1="1544" y1="80.8" x2="1544" y2="551.7" stroke="#EBEBEB" stroke-width="1.7" />
<line x1="1684.5" y1="80.8" x2="1684.5" y2="551.7" stroke="#EBEBEB" stroke-width="1.7" />
<line x1="1825" y1="80.8" x2="1825" y2="551.7" stroke="#EBEBEB" stroke-width="1.7" />
<line x1="1965.5" y1="80.8" x2="1965.5" y2="551.7" stroke="#EBEBEB" stroke-width="1.7" />
<path d="M1276.65 533 L1276.65 532.6 L1299.61 532.6 L1299.61 533 Z" fill="#6B6B6B" fill-opacity="0.35"/>
<path d="M1299.61 533 L1299.61 531.8 L1322.57 531.8 L1322.57 523.7 L1345.54 523.7 L1345.54 533 Z" fill="#6B6B6B"/>
<path d="M1345.54 529.4 L1345.54 462 L1368.5 462 L1368.5 255 L1391.46 255 L1391.46 101 L1414.42 101 L1414.42 286.2 L1437.38 286.2 L1437.38 375 L1460.35 375 L1460.35 468 L1483.31 468 L1483.31 474.6 L1506.27 474.6 L1506.27 483.2 L1529.23 483.2 L1529.23 508.2 L1552.19 508.2 L1552.19 509 L1575.16 509 L1575.16 529.4 Z" fill="#6B6B6B"/>
<path d="M1575.16 533 L1575.16 524 L1598.12 524 L1598.12 523.1 L1621.08 523.1 L1621.08 524 L1644.04 524 L1644.04 526.5 L1667 526.5 L1667 530.4 L1689.97 530.4 L1689.97 531.2 L1712.93 531.2 L1712.93 530.4 L1735.89 530.4 L1735.89 531.6 L1758.85 531.6 L1758.85 531 L1781.81 531 L1781.81 531.6 L1804.78 531.6 L1804.78 533 Z" fill="#6B6B6B"/>
<path d="M1804.78 533 L1804.78 532 L1827.74 532 L1827.74 533 Z" fill="#6B6B6B" fill-opacity="0.8"/>
<path d="M1827.74 533 L1827.74 531.4 L1850.7 531.4 L1850.7 531.8 L1873.66 531.8 L1873.66 533 Z" fill="#6B6B6B"/>
<path d="M1873.66 533 L1873.66 532.2 L1896.62 532.2 L1896.62 533 Z" fill="#6B6B6B" fill-opacity="0.6"/>
<path d="M1896.62 533 L1896.62 532.4 L1919.59 532.4 L1919.59 533 Z" fill="#6B6B6B" fill-opacity="0.5"/>
<path d="M1919.59 533 L1919.59 532.7 L1942.55 532.7 L1942.55 533 Z" fill="#6B6B6B" fill-opacity="0.3"/>
<path d="M1942.55 533 L1942.55 531.3 L1965.51 531.3 L1965.51 533 Z" fill="#6B6B6B"/>
<rect x="1243.4" y="80.8" width="755.8" height="470.9" fill="none" stroke="#3a3a3a" stroke-width="1.9"/>
<line x1="1238.2" y1="533.7" x2="1242.9" y2="533.7" stroke="#3a3a3a" stroke-width="1.75" />
<text transform="translate(1232.6 538.2)" font-size="23" fill="#545454" stroke="#545454" stroke-width="0.38" stroke-linejoin="round" text-anchor="end" font-weight="normal" >0</text>
<line x1="1238.2" y1="411.4" x2="1242.9" y2="411.4" stroke="#3a3a3a" stroke-width="1.75" />
<text transform="translate(1232.6 419.7)" font-size="23" fill="#545454" stroke="#545454" stroke-width="0.38" stroke-linejoin="round" text-anchor="end" font-weight="normal" >5000</text>
<line x1="1238.2" y1="293.4" x2="1242.9" y2="293.4" stroke="#3a3a3a" stroke-width="1.75" />
<text transform="translate(1232.6 301.7)" font-size="23" fill="#545454" stroke="#545454" stroke-width="0.38" stroke-linejoin="round" text-anchor="end" font-weight="normal" >10000</text>
<line x1="1238.2" y1="174.8" x2="1242.9" y2="174.8" stroke="#3a3a3a" stroke-width="1.75" />
<text transform="translate(1232.6 183.1)" font-size="23" fill="#545454" stroke="#545454" stroke-width="0.38" stroke-linejoin="round" text-anchor="end" font-weight="normal" >15000</text>
<line x1="1263" y1="555.5" x2="1263" y2="560.8" stroke="#3a3a3a" stroke-width="1.75" />
<text transform="translate(1262 580.7)" font-size="23" fill="#545454" stroke="#545454" stroke-width="0.38" stroke-linejoin="round" text-anchor="middle" font-weight="normal" >0.0</text>
<line x1="1403.5" y1="555.5" x2="1403.5" y2="560.8" stroke="#3a3a3a" stroke-width="1.75" />
<text transform="translate(1402.5 580.7)" font-size="23" fill="#545454" stroke="#545454" stroke-width="0.38" stroke-linejoin="round" text-anchor="middle" font-weight="normal" >0.2</text>
<line x1="1544" y1="555.5" x2="1544" y2="560.8" stroke="#3a3a3a" stroke-width="1.75" />
<text transform="translate(1543 580.7)" font-size="23" fill="#545454" stroke="#545454" stroke-width="0.38" stroke-linejoin="round" text-anchor="middle" font-weight="normal" >0.4</text>
<line x1="1684.5" y1="555.5" x2="1684.5" y2="560.8" stroke="#3a3a3a" stroke-width="1.75" />
<text transform="translate(1683.5 580.7)" font-size="23" fill="#545454" stroke="#545454" stroke-width="0.38" stroke-linejoin="round" text-anchor="middle" font-weight="normal" >0.6</text>
<line x1="1825" y1="555.5" x2="1825" y2="560.8" stroke="#3a3a3a" stroke-width="1.75" />
<text transform="translate(1824 580.7)" font-size="23" fill="#545454" stroke="#545454" stroke-width="0.38" stroke-linejoin="round" text-anchor="middle" font-weight="normal" >0.8</text>
<line x1="1965.5" y1="555.5" x2="1965.5" y2="560.8" stroke="#3a3a3a" stroke-width="1.75" />
<text transform="translate(1964.5 580.7)" font-size="23" fill="#545454" stroke="#545454" stroke-width="0.38" stroke-linejoin="round" text-anchor="middle" font-weight="normal" >1.0</text>
<text transform="translate(1619 611.8)" font-size="29" fill="#000" stroke="#000" stroke-width="0.45" stroke-linejoin="round" text-anchor="middle" font-weight="normal" >Minimum Tanimoto similarity to test compounds</text>
<text transform="translate(1154.1 315) rotate(-90)" font-size="29" fill="#000" stroke="#000" stroke-width="0.45" stroke-linejoin="round" text-anchor="middle" font-weight="normal" >Number of training pairs</text>
<line x1="1239.4" y1="1043.5" x2="1996.3" y2="1043.5" stroke="#EBEBEB" stroke-width="0.85" />
<line x1="1239.4" y1="937.9" x2="1996.3" y2="937.9" stroke="#EBEBEB" stroke-width="0.85" />
<line x1="1239.4" y1="832.3" x2="1996.3" y2="832.3" stroke="#EBEBEB" stroke-width="0.85" />
<line x1="1239.4" y1="726.7" x2="1996.3" y2="726.7" stroke="#EBEBEB" stroke-width="0.85" />
<line x1="1290.5" y1="646.75" x2="1290.5" y2="1117.8" stroke="#EBEBEB" stroke-width="0.85" />
<line x1="1439.1" y1="646.75" x2="1439.1" y2="1117.8" stroke="#EBEBEB" stroke-width="0.85" />
<line x1="1587.7" y1="646.75" x2="1587.7" y2="1117.8" stroke="#EBEBEB" stroke-width="0.85" />
<line x1="1736.2" y1="646.75" x2="1736.2" y2="1117.8" stroke="#EBEBEB" stroke-width="0.85" />
<line x1="1884.7" y1="646.75" x2="1884.7" y2="1117.8" stroke="#EBEBEB" stroke-width="0.85" />
<line x1="1239.4" y1="1096.3" x2="1996.3" y2="1096.3" stroke="#EBEBEB" stroke-width="1.7" />
<line x1="1239.4" y1="990.7" x2="1996.3" y2="990.7" stroke="#EBEBEB" stroke-width="1.7" />
<line x1="1239.4" y1="885" x2="1996.3" y2="885" stroke="#EBEBEB" stroke-width="1.7" />
<line x1="1239.4" y1="779.4" x2="1996.3" y2="779.4" stroke="#EBEBEB" stroke-width="1.7" />
<line x1="1239.4" y1="673.9" x2="1996.3" y2="673.9" stroke="#EBEBEB" stroke-width="1.7" />
<line x1="1364.8" y1="646.75" x2="1364.8" y2="1117.8" stroke="#EBEBEB" stroke-width="1.7" />
<line x1="1513.4" y1="646.75" x2="1513.4" y2="1117.8" stroke="#EBEBEB" stroke-width="1.7" />
<line x1="1662" y1="646.75" x2="1662" y2="1117.8" stroke="#EBEBEB" stroke-width="1.7" />
<line x1="1810.4" y1="646.75" x2="1810.4" y2="1117.8" stroke="#EBEBEB" stroke-width="1.7" />
<line x1="1958.9" y1="646.75" x2="1958.9" y2="1117.8" stroke="#EBEBEB" stroke-width="1.7" />
<path d="M1272.6 1095.4 L1272.6 1095.1 L1295.53 1095.1 L1295.53 1095.4 Z" fill="#6B6B6B" fill-opacity="0.3"/>
<path d="M1295.53 1095.4 L1295.53 1095 L1318.46 1095 L1318.46 1095.4 Z" fill="#6B6B6B" fill-opacity="0.5"/>
<path d="M1318.46 1095.4 L1318.46 1094.8 L1341.39 1094.8 L1341.39 1095.4 Z" fill="#6B6B6B" fill-opacity="0.7"/>
<path d="M1341.39 1095.4 L1341.39 1093.8 L1364.32 1093.8 L1364.32 1092.6 L1387.25 1092.6 L1387.25 1092.8 L1410.18 1092.8 L1410.18 1091.5 L1433.11 1091.5 L1433.11 1085.6 L1456.04 1085.6 L1456.04 1045.1 L1478.97 1045.1 L1478.97 1051.2 L1501.9 1051.2 L1501.9 943.2 L1524.83 943.2 L1524.83 814.2 L1547.76 814.2 L1547.76 667.2 L1570.69 667.2 L1570.69 708.7 L1593.62 708.7 L1593.62 787.5 L1616.55 787.5 L1616.55 859.2 L1639.48 859.2 L1639.48 913 L1662.41 913 L1662.41 955 L1685.34 955 L1685.34 986.2 L1708.27 986.2 L1708.27 1008.2 L1731.2 1008.2 L1731.2 1038.7 L1754.13 1038.7 L1754.13 1065.5 L1777.06 1065.5 L1777.06 1078.7 L1799.99 1078.7 L1799.99 1088.2 L1822.92 1088.2 L1822.92 1091.5 L1845.85 1091.5 L1845.85 1092.5 L1868.78 1092.5 L1868.78 1093.7 L1891.71 1093.7 L1891.71 1095.4 Z" fill="#6B6B6B"/>
<path d="M1891.71 1095.4 L1891.71 1094.6 L1914.64 1094.6 L1914.64 1095.4 Z" fill="#6B6B6B" fill-opacity="0.8"/>
<path d="M1914.64 1095.4 L1914.64 1095 L1937.57 1095 L1937.57 1095.4 Z" fill="#6B6B6B" fill-opacity="0.5"/>
<path d="M1937.57 1095.4 L1937.57 1095.1 L1960.5 1095.1 L1960.5 1095.4 Z" fill="#6B6B6B" fill-opacity="0.3"/>
<rect x="1239.4" y="646.75" width="756.9" height="471.05" fill="none" stroke="#3a3a3a" stroke-width="1.9"/>
<line x1="1234.2" y1="1096.3" x2="1238.9" y2="1096.3" stroke="#3a3a3a" stroke-width="1.75" />
<text transform="translate(1228.6 1104.6)" font-size="23" fill="#545454" stroke="#545454" stroke-width="0.38" stroke-linejoin="round" text-anchor="end" font-weight="normal" >0</text>
<line x1="1234.2" y1="990.7" x2="1238.9" y2="990.7" stroke="#3a3a3a" stroke-width="1.75" />
<text transform="translate(1228.6 999)" font-size="23" fill="#545454" stroke="#545454" stroke-width="0.38" stroke-linejoin="round" text-anchor="end" font-weight="normal" >2500</text>
<line x1="1234.2" y1="885" x2="1238.9" y2="885" stroke="#3a3a3a" stroke-width="1.75" />
<text transform="translate(1228.6 893.3)" font-size="23" fill="#545454" stroke="#545454" stroke-width="0.38" stroke-linejoin="round" text-anchor="end" font-weight="normal" >5000</text>
<line x1="1234.2" y1="779.4" x2="1238.9" y2="779.4" stroke="#3a3a3a" stroke-width="1.75" />
<text transform="translate(1228.6 787.7)" font-size="23" fill="#545454" stroke="#545454" stroke-width="0.38" stroke-linejoin="round" text-anchor="end" font-weight="normal" >7500</text>
<line x1="1234.2" y1="673.9" x2="1238.9" y2="673.9" stroke="#3a3a3a" stroke-width="1.75" />
<text transform="translate(1228.6 682.2)" font-size="23" fill="#545454" stroke="#545454" stroke-width="0.38" stroke-linejoin="round" text-anchor="end" font-weight="normal" >10000</text>
<line x1="1364.8" y1="1118.3" x2="1364.8" y2="1123.1" stroke="#3a3a3a" stroke-width="1.75" />
<text transform="translate(1363.8 1143.1)" font-size="23" fill="#545454" stroke="#545454" stroke-width="0.38" stroke-linejoin="round" text-anchor="middle" font-weight="normal" >2.5</text>
<line x1="1513.4" y1="1118.3" x2="1513.4" y2="1123.1" stroke="#3a3a3a" stroke-width="1.75" />
<text transform="translate(1512.4 1143.1)" font-size="23" fill="#545454" stroke="#545454" stroke-width="0.38" stroke-linejoin="round" text-anchor="middle" font-weight="normal" >5.0</text>
<line x1="1662" y1="1118.3" x2="1662" y2="1123.1" stroke="#3a3a3a" stroke-width="1.75" />
<text transform="translate(1661 1143.1)" font-size="23" fill="#545454" stroke="#545454" stroke-width="0.38" stroke-linejoin="round" text-anchor="middle" font-weight="normal" >7.5</text>
<line x1="1810.4" y1="1118.3" x2="1810.4" y2="1123.1" stroke="#3a3a3a" stroke-width="1.75" />
<text transform="translate(1809.4 1143.1)" font-size="23" fill="#545454" stroke="#545454" stroke-width="0.38" stroke-linejoin="round" text-anchor="middle" font-weight="normal" >10.0</text>
<line x1="1958.9" y1="1118.3" x2="1958.9" y2="1123.1" stroke="#3a3a3a" stroke-width="1.75" />
<text transform="translate(1957.9 1143.1)" font-size="23" fill="#545454" stroke="#545454" stroke-width="0.38" stroke-linejoin="round" text-anchor="middle" font-weight="normal" >12.5</text>
<text transform="translate(1154.1 881) rotate(-90)" font-size="29" fill="#000" stroke="#000" stroke-width="0.45" stroke-linejoin="round" text-anchor="middle" font-weight="normal" >Number of training pairs</text>
<text x="1522.0" y="1174.0" font-size="29" fill="#000" stroke="#000" stroke-width="0.45">Measured pK<tspan font-size="19" dx="0.7" dy="3.6">d</tspan></text>
<text transform="translate(142 27.8) scale(1 1.035)" font-size="29.3" fill="#000" stroke="#000" stroke-width="0.45" stroke-linejoin="round" text-anchor="start" font-weight="normal" >Condition</text>
<rect x="295.6" y="-0.5" width="30.6" height="31.3" fill="#EAB17A" />
<text transform="translate(335.2 23.8)" font-size="22.95" fill="#000" stroke="#000" stroke-width="0.45" stroke-linejoin="round" text-anchor="start" font-weight="normal" >All Training Data</text>
<rect x="531.6" y="1.5" width="30.9" height="30.8" fill="#7B7C81" />
<text transform="translate(569.2 25.5)" font-size="23.3" fill="#000" stroke="#000" stroke-width="0.45" stroke-linejoin="round" text-anchor="start" font-weight="normal" >Dropout Test</text>
<line x1="731.9" y1="17.9" x2="737.5" y2="17.9" stroke="#CACACA" stroke-width="2" />
<rect x="737.1" y="1.5" width="30.4" height="30.8" fill="#CACACA" />
<text transform="translate(774.9 25.5)" font-size="23.3" fill="#000" stroke="#000" stroke-width="0.45" stroke-linejoin="round" text-anchor="start" font-weight="normal" >Random Control</text>
<text transform="translate(-3.4 37.3)" font-size="55" fill="#000" stroke="#000" stroke-width="0" stroke-linejoin="round" text-anchor="start" font-weight="bold" >a</text>
<text transform="translate(1084.6 44)" font-size="55" fill="#000" stroke="#000" stroke-width="0" stroke-linejoin="round" text-anchor="start" font-weight="bold" >b</text>
<text transform="translate(-2.4 655.3)" font-size="55" fill="#000" stroke="#000" stroke-width="0" stroke-linejoin="round" text-anchor="start" font-weight="bold" >c</text>
<text transform="translate(1084 649.6)" font-size="55" fill="#000" stroke="#000" stroke-width="0" stroke-linejoin="round" text-anchor="start" font-weight="bold" >d</text>
</svg>
</body>
</html>
